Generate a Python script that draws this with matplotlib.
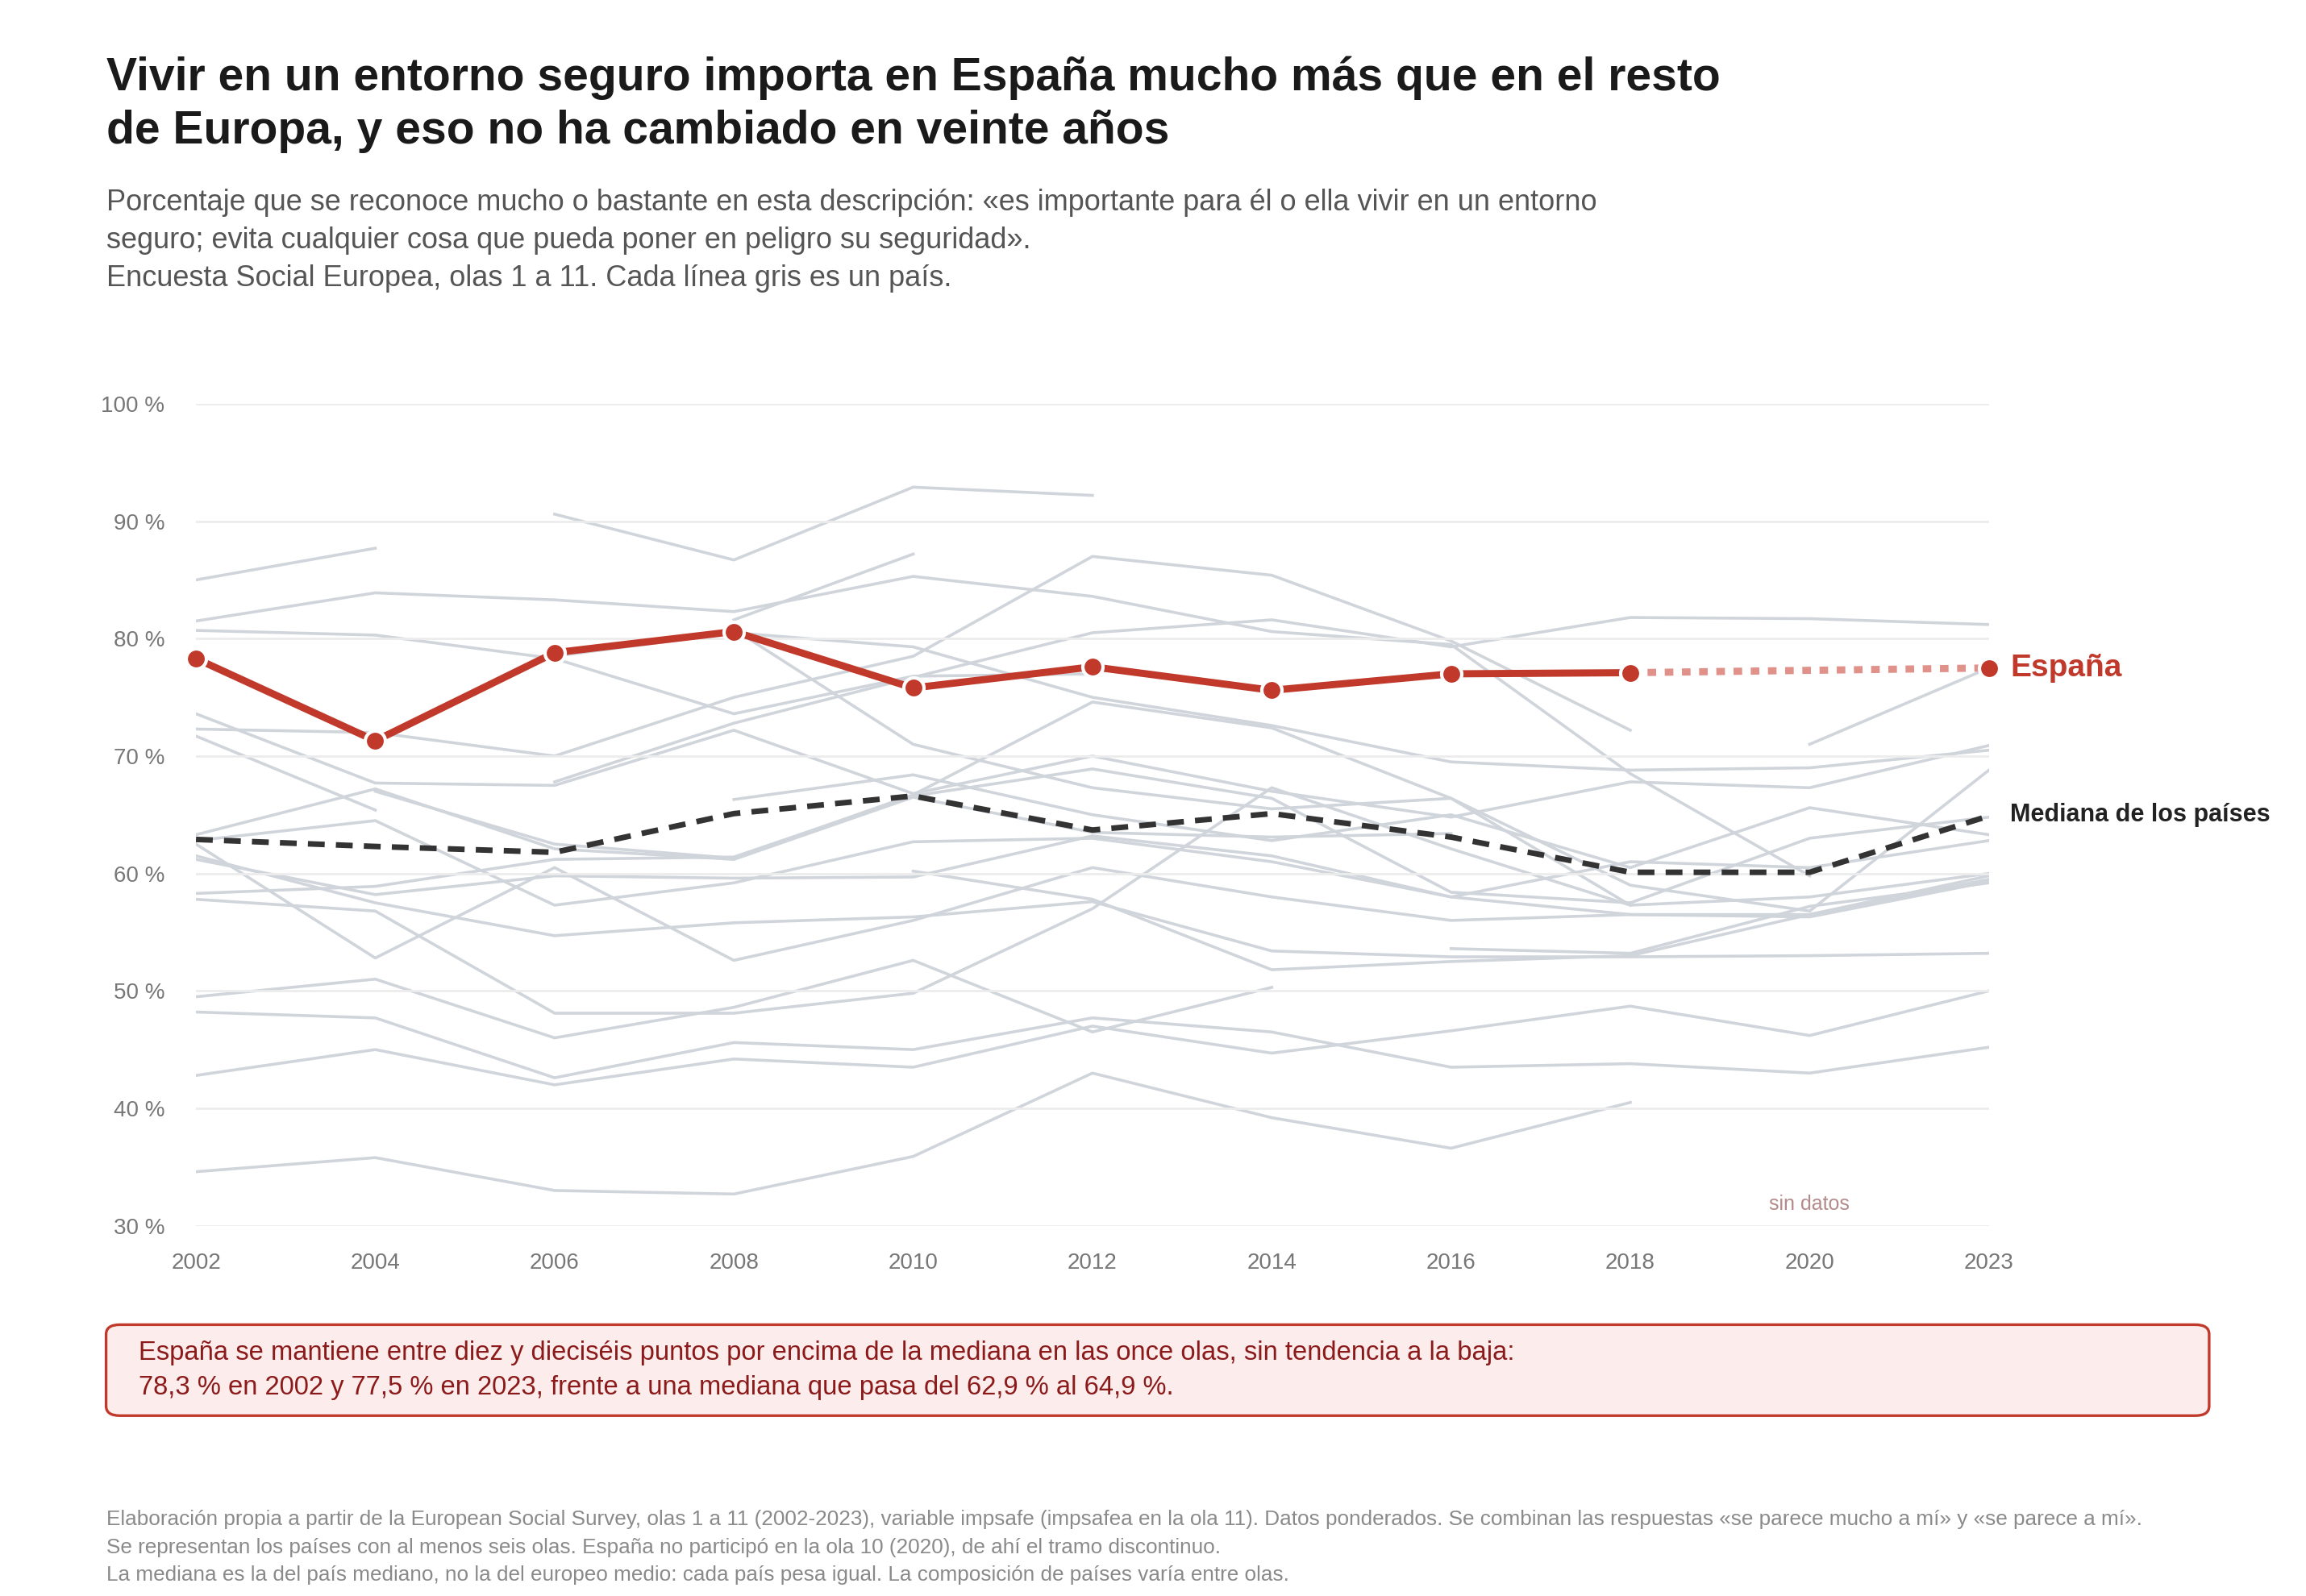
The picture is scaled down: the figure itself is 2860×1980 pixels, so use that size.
import numpy as np
import matplotlib.pyplot as plt
from matplotlib.patches import FancyBboxPatch

plt.rcParams['font.family'] = ['Liberation Sans', 'DejaVu Sans']

years = ['2002', '2004', '2006', '2008', '2010', '2012', '2014', '2016', '2018', '2020', '2023']
nan = np.nan

# Spain and the median of countries (%)
espana = [78.3, 71.3, 78.8, 80.6, 75.8, 77.6, 75.6, 77.0, 77.1, nan, 77.5]
mediana = [62.9, 62.3, 61.8, 65.1, 66.6, 63.7, 65.1, 63.1, 60.1, 60.1, 64.9]

# other countries (grey lines)
paises = [
    [85.0, 87.7, nan, nan, nan, nan, nan, nan, nan, nan, nan],
    [nan, nan, 90.6, 86.7, 92.9, 92.2, nan, nan, nan, nan, nan],
    [81.5, 83.9, 83.3, 82.3, 85.3, 83.6, 80.6, 79.5, 68.5, 59.8, nan],
    [nan, nan, nan, 81.6, 87.2, nan, nan, nan, nan, nan, nan],
    [72.3, 72.0, 70.0, 75.0, 78.5, 87.0, 85.4, 79.8, 72.2, nan, nan],
    [nan, nan, 67.8, 72.8, 76.7, 80.5, 81.6, 79.3, 81.8, 81.7, 81.2],
    [80.7, 80.3, 78.3, 73.6, 76.8, 77.0, nan, nan, nan, nan, nan],
    [nan, nan, nan, 80.8, 71.0, 67.3, 65.5, 66.4, 57.3, nan, nan],
    [nan, nan, 78.5, 80.5, 79.3, 75.0, 72.6, 69.5, 68.8, 69.0, 70.5],
    [73.6, 67.7, 67.5, 72.2, 66.8, 70.0, 67.0, 64.8, 67.8, 67.3, 70.9],
    [71.7, 65.4, nan, nan, nan, nan, nan, nan, nan, nan, nan],
    [nan, 67.0, 62.5, 61.3, 66.7, 74.6, 72.4, 66.4, 59.0, 56.8, 68.8],
    [63.3, 67.2, 62.1, 61.2, 66.5, 63.5, 63.1, 63.4, nan, nan, nan],
    [62.8, 64.5, 57.3, 59.2, 62.7, 63.0, 61.0, 58.0, 61.0, 60.5, 62.8],
    [61.5, 57.5, 54.7, 55.8, 56.3, 57.6, 53.4, 52.9, 52.9, 53.0, 53.2],
    [57.8, 56.8, 48.1, 48.1, 49.8, 57.0, 67.3, 62.1, 57.3, 58.0, 60.0],
    [62.5, 52.8, 60.5, 52.6, 56.0, 60.5, 58.0, 56.0, 56.5, 56.5, 59.5],
    [49.5, 51.0, 46.0, 48.6, 52.6, 46.5, 50.3, nan, nan, nan, nan],
    [48.2, 47.7, 42.6, 45.6, 45.0, 47.7, 46.5, 43.5, 43.8, 43.0, 45.2],
    [42.8, 45.0, 42.0, 44.2, 43.5, 47.0, 44.7, 46.6, 48.7, 46.2, 50.0],
    [34.6, 35.8, 33.0, 32.7, 35.9, 43.0, 39.2, 36.6, 40.5, nan, nan],
    [nan, nan, nan, nan, 60.2, 57.8, 51.8, 52.5, 53.0, 56.5, 59.8],
    [nan, nan, nan, 66.3, 68.4, 65.0, 62.8, 65.0, 60.5, 65.6, 63.3],
    [nan, nan, nan, nan, nan, nan, nan, 53.6, 53.2, 57.2, 59.2],
    [nan, nan, nan, nan, nan, nan, nan, nan, nan, 71.0, 77.5],
    [58.3, 58.9, 61.2, 61.4, 66.6, 68.9, 66.4, 58.4, 57.5, 63.0, 64.8],
    [61.2, 58.2, 59.8, 59.6, 59.7, 63.2, 61.5, 58.0, 56.5, 56.3, 59.3],
]

red = '#c0392b'
x = np.arange(len(years))

fig = plt.figure(figsize=(14.3, 9.9), dpi=200)
ax = fig.add_axes([0.085, 0.232, 0.7775, 0.515])

for p in paises:
    ax.plot(x, p, color='#d0d4db', lw=1.3, zorder=1)

ax.plot(x, mediana, color='#333333', lw=2.5, ls=(0, (3, 2)), zorder=3)

esp = np.array(espana)
ax.plot(x[:9], esp[:9], color=red, lw=3.2, zorder=4)
ax.plot([x[8], x[10]], [esp[8], esp[10]], color='#e0928a', lw=3.2, ls=(0, (1.2, 1.2)), zorder=4)
ax.plot(x, esp, 'o', color=red, ms=9, mec='white', mew=1.5, zorder=5, clip_on=False)

ax.text(10.12, esp[10], 'España', color=red, fontsize=14, fontweight='bold', va='center')
ax.text(10.12, mediana[10] + 0.1, 'Mediana de los países', color='#222222', fontsize=11,
        fontweight='bold', va='center')
ax.text(9, 31, 'sin datos', color='#b48a8a', fontsize=9, ha='center', va='bottom')

ax.set_xlim(0, 10)
ax.set_ylim(30, 100)
ax.set_yticks(range(30, 101, 10))
ax.set_yticklabels([f'{v} %' for v in range(30, 101, 10)])
ax.set_xticks(x)
ax.set_xticklabels(years)
ax.tick_params(length=0, colors='#777777', labelsize=10, pad=12)
ax.tick_params(axis='y', pad=14)
ax.grid(axis='y', color='#ececec', lw=1)
for s in ax.spines.values():
    s.set_visible(False)

fig.text(0.046, 0.965, 'Vivir en un entorno seguro importa en España mucho más que en el resto\n'
         'de Europa, y eso no ha cambiado en veinte años', fontsize=20.5, fontweight='bold',
         color='#1a1a1a', va='top', linespacing=1.3)
fig.text(0.046, 0.882, 'Porcentaje que se reconoce mucho o bastante en esta descripción: «es importante para él o ella vivir en un entorno\n'
         'seguro; evita cualquier cosa que pueda poner en peligro su seguridad».\n'
         'Encuesta Social Europea, olas 1 a 11. Cada línea gris es un país.',
         fontsize=13, color='#555555', va='top', linespacing=1.45)

box = FancyBboxPatch((0.046, 0.113), 0.912, 0.057, boxstyle='round,pad=0,rounding_size=0.006',
                     transform=fig.transFigure, fc='#fdecec', ec='#c0392b', lw=1.2)
fig.patches.append(box)
fig.text(0.060, 0.1415, 'España se mantiene entre diez y dieciséis puntos por encima de la mediana en las once olas, sin tendencia a la baja:\n'
         '78,3 % en 2002 y 77,5 % en 2023, frente a una mediana que pasa del 62,9 % al 64,9 %.',
         fontsize=11.8, color='#8b1a1a', va='center', linespacing=1.5)

fig.text(0.046, 0.054, 'Elaboración propia a partir de la European Social Survey, olas 1 a 11 (2002-2023), variable impsafe (impsafea en la ola 11). Datos ponderados. Se combinan las respuestas «se parece mucho a mí» y «se parece a mí».\n'
         'Se representan los países con al menos seis olas. España no participó en la ola 10 (2020), de ahí el tramo discontinuo.\n'
         'La mediana es la del país mediano, no la del europeo medio: cada país pesa igual. La composición de países varía entre olas.',
         fontsize=9.4, color='#8a8a8a', va='top', linespacing=1.55)

fig.savefig('out.png', dpi=200, facecolor='white')
